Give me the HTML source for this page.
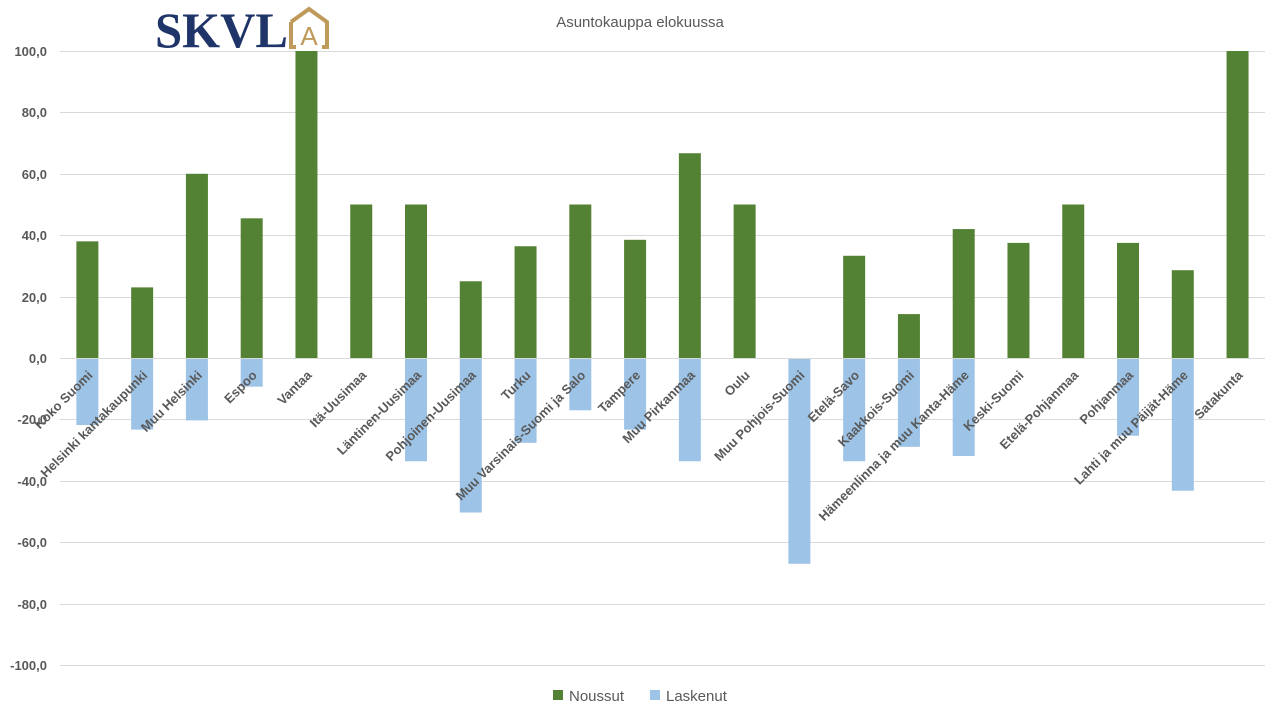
<!DOCTYPE html>
<html><head><meta charset="utf-8"><style>
html,body{margin:0;padding:0;background:#fff;}
svg{display:block;font-family:"Liberation Sans",sans-serif;}
</style></head><body>
<svg width="1280" height="720" viewBox="0 0 1280 720" xmlns="http://www.w3.org/2000/svg">
<text x="640" y="27" text-anchor="middle" font-size="15" fill="#595959">Asuntokauppa elokuussa</text>
<g stroke="#d9d9d9" stroke-width="1">
<line x1="60" x2="1265" y1="51.5" y2="51.5"/><line x1="60" x2="1265" y1="112.5" y2="112.5"/>
<line x1="60" x2="1265" y1="174.5" y2="174.5"/><line x1="60" x2="1265" y1="235.5" y2="235.5"/>
<line x1="60" x2="1265" y1="297.5" y2="297.5"/><line x1="60" x2="1265" y1="358.5" y2="358.5"/>
<line x1="60" x2="1265" y1="419.5" y2="419.5"/><line x1="60" x2="1265" y1="481.5" y2="481.5"/>
<line x1="60" x2="1265" y1="542.5" y2="542.5"/><line x1="60" x2="1265" y1="604.5" y2="604.5"/>
<line x1="60" x2="1265" y1="665.5" y2="665.5"/>
</g>
<g font-size="13" font-weight="bold" fill="#595959" text-anchor="end">
<text x="47" y="56">100,0</text><text x="47" y="117">80,0</text><text x="47" y="179">60,0</text>
<text x="47" y="240">40,0</text><text x="47" y="302">20,0</text><text x="47" y="363">0,0</text>
<text x="47" y="424">-20,0</text><text x="47" y="486">-40,0</text><text x="47" y="547">-60,0</text>
<text x="47" y="609">-80,0</text><text x="47" y="670">-100,0</text>
</g>
<g id="bars"></g>
<g id="labels" font-size="13" font-weight="bold" fill="#595959" text-anchor="end"></g>
<rect x="150" y="4" width="182" height="46" fill="#fff"/>
<text x="155" y="47" font-family="'Liberation Serif',serif" font-weight="bold" font-size="50" fill="#1f3468" textLength="133" lengthAdjust="spacingAndGlyphs">SKVL</text>
<g fill="none" stroke="#c09a5b" stroke-width="4">
<path d="M291 22 L309 9 L327 22 L327 47 L322 47"/>
<path d="M291 22 L291 47 L296 47"/>
</g>
<text x="309" y="45" text-anchor="middle" font-size="26" fill="#c09a5b">A</text>
<rect x="553" y="690" width="10" height="10" fill="#548235"/>
<text x="569" y="701" font-size="15" fill="#595959">Noussut</text>
<rect x="650" y="690" width="10" height="10" fill="#9dc3e6"/>
<text x="666" y="701" font-size="15" fill="#595959">Laskenut</text>
<script>
var names=["Koko Suomi","Helsinki kantakaupunki","Muu Helsinki","Espoo","Vantaa","Itä-Uusimaa","Läntinen-Uusimaa","Pohjoinen-Uusimaa","Turku","Muu Varsinais-Suomi ja Salo","Tampere","Muu Pirkanmaa","Oulu","Muu Pohjois-Suomi","Etelä-Savo","Kaakkois-Suomi","Hämeenlinna ja muu Kanta-Häme","Keski-Suomi","Etelä-Pohjanmaa","Pohjanmaa","Lahti ja muu Päijät-Häme","Satakunta"];
var up=[38,23,60,45.5,100,50,50,25,36.4,50,38.5,66.7,50,0,33.3,14.3,42,37.5,50,37.5,28.6,100];
var dn=[21.5,23,20,9,0,0,33.3,50,27.3,16.7,23,33.3,0,66.7,33.3,28.6,31.6,0,0,25,42.9,0];
var ns="http://www.w3.org/2000/svg",b=document.getElementById("bars"),l=document.getElementById("labels");
var s=3.07,z=358;
for(var i=0;i<22;i++){var cx=60+54.77*(i+0.5);
 if(up[i]>0){var r=document.createElementNS(ns,"rect");r.setAttribute("x",cx-11);r.setAttribute("width",22);r.setAttribute("y",z-up[i]*s);r.setAttribute("height",up[i]*s);r.setAttribute("fill","#548235");b.appendChild(r);}
 if(dn[i]>0){var r2=document.createElementNS(ns,"rect");r2.setAttribute("x",cx-11);r2.setAttribute("width",22);r2.setAttribute("y",z+1);r2.setAttribute("height",dn[i]*s);r2.setAttribute("fill","#9dc3e6");b.appendChild(r2);}
 var t=document.createElementNS(ns,"text");var tx=cx+6,ty=376;t.setAttribute("x",tx);t.setAttribute("y",ty);t.setAttribute("transform","rotate(-45 "+tx+" "+ty+")");t.textContent=names[i];l.appendChild(t);}
</script>
</svg>
</body></html>
